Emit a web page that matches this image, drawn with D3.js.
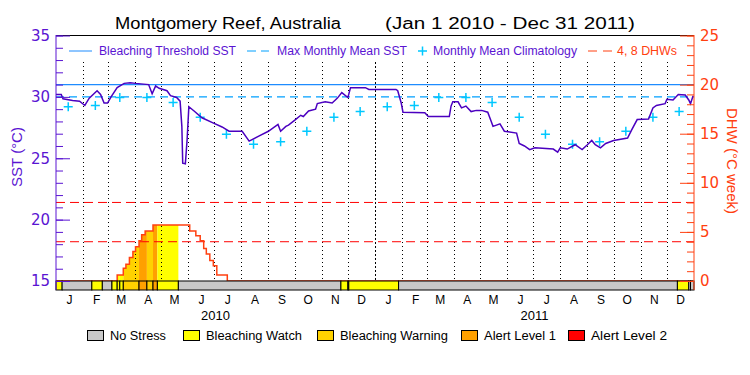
<!DOCTYPE html>
<html>
<head>
<meta charset="utf-8">
<script src="https://cdn.jsdelivr.net/npm/d3@7"></script>
<style>
  body { margin: 0; background: #fff; }
  svg text { font-family: "Liberation Sans", Arial, sans-serif; }
</style>
</head>
<body>
<div id="chart"></div>
<script>
// Montgomery Reef SST / DHW chart, 2010-2011
const monthLetters = ['J', 'F', 'M', 'A', 'M', 'J', 'J', 'A', 'S', 'O', 'N', 'D'];
const years = [2010, 2011];
const climatology = [29.2, 29.3, 29.95, 29.95, 29.55, 28.35, 26.95, 26.15, 26.35, 27.2, 28.35, 28.8];
const bleachingThreshold = 31.0;
const maxMonthlyMean = 30.0;
const dhwLevels = [4, 8];

const sstDates = [
  '2010-01-01', '2010-01-07', '2010-01-09', '2010-01-20', '2010-01-28', '2010-02-03', '2010-02-08',
  '2010-02-17', '2010-02-21', '2010-02-25', '2010-03-01', '2010-03-05', '2010-03-12', '2010-03-20',
  '2010-03-27', '2010-04-02', '2010-04-17', '2010-04-21', '2010-04-25', '2010-04-29', '2010-05-08',
  '2010-05-12', '2010-05-19', '2010-05-23', '2010-05-25', '2010-05-26', '2010-05-29', '2010-05-31',
  '2010-06-02', '2010-06-08', '2010-06-17', '2010-06-29', '2010-07-10', '2010-07-18', '2010-07-25',
  '2010-08-02', '2010-08-10', '2010-08-21', '2010-09-01', '2010-09-12', '2010-09-15', '2010-09-21',
  '2010-09-24', '2010-10-02', '2010-10-08', '2010-10-11', '2010-10-17', '2010-10-25', '2010-10-27',
  '2010-11-05', '2010-11-13', '2010-11-19', '2010-11-24', '2010-12-01', '2010-12-04', '2010-12-21',
  '2010-12-25', '2011-01-25', '2011-01-27', '2011-01-31', '2011-02-02', '2011-02-27', '2011-03-03',
  '2011-03-27', '2011-03-29', '2011-03-31', '2011-04-06', '2011-04-10', '2011-04-15', '2011-04-21',
  '2011-04-27', '2011-05-03', '2011-05-10', '2011-05-14', '2011-05-16', '2011-05-24', '2011-05-29',
  '2011-06-12', '2011-06-15', '2011-06-21', '2011-06-27', '2011-07-03', '2011-07-24', '2011-07-29',
  '2011-08-01', '2011-08-09', '2011-08-18', '2011-08-26', '2011-09-01', '2011-09-06', '2011-09-10',
  '2011-09-16', '2011-09-22', '2011-10-01', '2011-10-17', '2011-10-22', '2011-10-28', '2011-11-10',
  '2011-11-15', '2011-11-19', '2011-11-29', '2011-12-01', '2011-12-08', '2011-12-14', '2011-12-22',
  '2011-12-26', '2011-12-28', '2011-12-31'
];
const sstValues = [
  30.2, 30.2, 29.85, 29.7, 29.65, 29.3, 29.9,
  30.5, 30.2, 29.5, 29.5, 30.0, 30.75, 31.1,
  31.15, 31.1, 31.0, 30.25, 30.9, 30.7, 30.5,
  30.1, 29.95, 29.65, 27.6, 24.6, 24.55, 26.5,
  29.2, 28.85, 28.3, 27.9, 27.55, 27.2, 27.2,
  27.2, 26.4, 26.8, 27.2, 27.75, 27.2, 27.6,
  27.7, 28.15, 28.5, 28.4, 28.85, 29.0, 29.45,
  29.6, 29.5, 29.9, 30.35, 29.95, 30.75, 30.75,
  30.6, 30.6, 30.5, 29.5, 28.75, 28.7, 28.4,
  28.4, 29.25, 29.6, 29.6, 29.1, 29.25, 28.8,
  28.9, 28.9, 28.75, 28.0, 27.6, 27.8, 27.2,
  27.05, 26.2, 26.0, 25.7, 25.85, 25.75, 25.5,
  25.85, 25.75, 26.1, 25.7, 26.1, 26.45, 26.1,
  25.85, 26.2, 26.45, 26.65, 27.35, 28.15, 28.2,
  29.1, 29.3, 29.45, 29.8, 29.75, 30.2, 30.15,
  29.75, 29.45, 30.1
];

const dhwDates = [
  '2010-01-01', '2010-03-12', '2010-03-19', '2010-03-22', '2010-03-26', '2010-03-30', '2010-04-02',
  '2010-04-06', '2010-04-09', '2010-04-13', '2010-04-22', '2010-06-03', '2010-06-10', '2010-06-15',
  '2010-06-19', '2010-06-22', '2010-06-26', '2010-06-30', '2010-07-04', '2010-07-16', '2011-12-31'
];
const dhwValues = [
  0, 0.6, 1.3, 1.7, 2.4, 3.0, 3.5,
  4.1, 4.7, 5.1, 5.7, 5.1, 4.6, 4.1,
  3.3, 2.75, 2.1, 1.55, 0.6, 0, 0
];

const stressStarts = [
  '2010-01-01', '2010-01-08', '2010-02-11', '2010-02-23', '2010-03-06', '2010-03-12', '2010-03-15',
  '2010-03-19', '2010-04-06', '2010-04-15', '2010-04-22', '2010-04-27', '2010-05-21', '2010-11-23',
  '2010-12-01', '2010-12-02', '2011-01-28', '2011-12-13', '2011-12-26', '2011-12-28'
];
const stressLevels = [1, 0, 1, 0, 1, 1, 1, 2, 3, 2, 3, 1, 0, 1, 0, 1, 0, 1, 0, 0];
const stressNames = ['No Stress', 'Bleaching Watch', 'Bleaching Warning', 'Alert Level 1', 'Alert Level 2'];

const stressColors = ['#c8c8c8', '#ffff00', '#ffd200', '#ffa000', '#ff0000'];
const purple = '#5a14d2';
const orange = '#ff4010';

const parse = d3.timeParse('%Y-%m-%d');
const start = new Date(2010, 0, 1), end = new Date(2012, 0, 1);

const width = 750, height = 375;
const svg = d3.select('#chart').append('svg')
  .attr('width', width).attr('height', height);

const x = d3.scaleTime().domain([start, end]).range([56, 694]);
const ySST = d3.scaleLinear().domain([15, 35]).range([281, 35.5]);
const yDHW = d3.scaleLinear().domain([0, 25]).range([281, 35.5]);

const sst = sstDates.map((d, i) => ({ date: parse(d), value: sstValues[i] }));
const dhw = dhwDates.map((d, i) => ({ date: parse(d), value: dhwValues[i] }));
const stress = stressStarts.map((d, i) => ({
  start: parse(d),
  end: i + 1 < stressStarts.length ? parse(stressStarts[i + 1]) : end,
  level: stressLevels[i]
}));

// fill under DHW coloured by stress level
const dhwArea = d3.area().curve(d3.curveStepAfter)
  .x(d => x(d.date)).y0(yDHW(0)).y1(d => yDHW(d.value));
svg.append('clipPath').attr('id', 'dhw-clip')
  .append('path').attr('d', dhwArea(dhw));
svg.append('g').attr('clip-path', 'url(#dhw-clip)')
  .selectAll('rect')
  .data(stress.filter(d => d.level > 0))
  .join('rect')
  .attr('x', d => x(d.start))
  .attr('width', d => x(d.end) - x(d.start))
  .attr('y', yDHW(25))
  .attr('height', yDHW(0) - yDHW(25))
  .attr('fill', d => stressColors[d.level]);

// dotted month lines (kept below the legend strip)
svg.append('g')
  .selectAll('line')
  .data(d3.timeMonth.range(new Date(2010, 1, 1), end))
  .join('line')
  .attr('x1', d => Math.round(x(d)) + 0.5)
  .attr('x2', d => Math.round(x(d)) + 0.5)
  .attr('y1', 62).attr('y2', 281)
  .attr('stroke', '#000')
  .attr('stroke-dasharray', d => d.getMonth() === 0 ? '2,2' : '1,3');

// DHW 4 and 8 lines
svg.append('g')
  .selectAll('line')
  .data(dhwLevels)
  .join('line')
  .attr('x1', 56).attr('x2', 694)
  .attr('y1', d => yDHW(d)).attr('y2', d => yDHW(d))
  .attr('stroke', '#ff0000')
  .attr('stroke-dasharray', '9,5');

// threshold + MMM
svg.append('line')
  .attr('x1', 56).attr('x2', 694)
  .attr('y1', ySST(bleachingThreshold)).attr('y2', ySST(bleachingThreshold))
  .attr('stroke', '#1e8cff').attr('stroke-width', 1.2);
svg.append('line')
  .attr('x1', 56).attr('x2', 694)
  .attr('y1', ySST(maxMonthlyMean)).attr('y2', ySST(maxMonthlyMean))
  .attr('stroke', '#00a0ff').attr('stroke-width', 1.2)
  .attr('stroke-dasharray', '8,5');

// monthly mean climatology crosses
const climPoints = [];
years.forEach(yr => climatology.forEach((v, m) => climPoints.push({ date: new Date(yr, m, 15), value: v })));
svg.append('g')
  .selectAll('path')
  .data(climPoints)
  .join('path')
  .attr('transform', d => `translate(${x(d.date)},${ySST(d.value)})`)
  .attr('d', 'M-4.5,0H4.5M0,-4.5V4.5')
  .attr('stroke', '#00c8ff')
  .attr('stroke-width', 1.5);

// DHW line
svg.append('path')
  .datum(dhw)
  .attr('d', d3.line().curve(d3.curveStepAfter).x(d => x(d.date)).y(d => yDHW(d.value)))
  .attr('fill', 'none')
  .attr('stroke', orange)
  .attr('stroke-width', 1.5);

// SST line
svg.append('path')
  .datum(sst)
  .attr('d', d3.line().x(d => x(d.date)).y(d => ySST(d.value)))
  .attr('fill', 'none')
  .attr('stroke', '#4b00c0')
  .attr('stroke-width', 1.5);

// stress bar
svg.append('g')
  .selectAll('rect')
  .data(stress)
  .join('rect')
  .attr('x', d => x(d.start))
  .attr('width', d => x(d.end) - x(d.start))
  .attr('y', 281).attr('height', 9)
  .attr('fill', d => stressColors[d.level])
  .attr('stroke', '#000')
  .attr('stroke-width', 1);

// frame top
svg.append('line')
  .attr('x1', 56).attr('x2', 694).attr('y1', 35.5).attr('y2', 35.5)
  .attr('stroke', '#000');

// left axis
const left = svg.append('g').attr('transform', 'translate(56,0)');
left.call(d3.axisLeft(ySST).tickValues(d3.range(15, 36)).tickSize(-7).tickFormat('').tickSizeOuter(0));
left.call(g => g.append('g').call(d3.axisLeft(ySST).tickValues([15, 20, 25, 30, 35]).tickSize(-14).tickPadding(6).tickSizeOuter(0)));
left.selectAll('.domain').remove();
left.selectAll('line').attr('stroke', purple);
left.selectAll('text').attr('fill', purple).style('font-family', '"DejaVu Sans", sans-serif').style('font-size', '15px');
left.append('line').attr('y1', 35).attr('y2', 290).attr('stroke', purple);

// right axis
const right = svg.append('g').attr('transform', 'translate(694,0)');
right.call(d3.axisRight(yDHW).tickValues(d3.range(0, 26)).tickSize(-7).tickFormat('').tickSizeOuter(0));
right.call(g => g.append('g').call(d3.axisRight(yDHW).tickValues([0, 5, 10, 15, 20, 25]).tickSize(-14).tickPadding(6).tickSizeOuter(0)));
right.selectAll('.domain').remove();
right.selectAll('line').attr('stroke', orange);
right.selectAll('text').attr('fill', orange).style('font-family', '"DejaVu Sans", sans-serif').style('font-size', '15px');
right.append('line').attr('y1', 35).attr('y2', 290).attr('stroke', orange);

// axis titles
svg.append('text')
  .attr('transform', 'translate(22,157) rotate(-90)')
  .attr('text-anchor', 'middle')
  .attr('fill', purple)
  .style('font-size', '15px')
  .text('SST (°C)');
svg.append('text')
  .attr('transform', 'translate(727,161) rotate(90)')
  .attr('text-anchor', 'middle')
  .attr('fill', orange)
  .style('font-size', '15px')
  .text('DHW (°C week)');

// month labels
const monthAxis = svg.append('g').attr('transform', 'translate(0,291)')
  .call(d3.axisBottom(x)
    .tickValues(d3.timeMonth.range(start, end).map(d => new Date(d.getFullYear(), d.getMonth(), 16)))
    .tickFormat(d => monthLetters[d.getMonth()])
    .tickSize(0).tickPadding(4));
monthAxis.select('.domain').remove();
monthAxis.selectAll('text').attr('fill', '#000').style('font-size', '12px');

const yearAxis = svg.append('g').attr('transform', 'translate(0,307)')
  .call(d3.axisBottom(x)
    .tickValues(years.map(yr => new Date(yr, 6, 2)))
    .tickFormat(d3.timeFormat('%Y'))
    .tickSize(0).tickPadding(4));
yearAxis.select('.domain').remove();
yearAxis.selectAll('text').attr('fill', '#000').style('font-size', '13px');

// title
svg.append('text').attr('x', 115).attr('y', 29)
  .attr('textLength', 226).attr('lengthAdjust', 'spacingAndGlyphs')
  .style('font-size', '16px').text('Montgomery Reef, Australia');
svg.append('text').attr('x', 385).attr('y', 29)
  .attr('textLength', 250).attr('lengthAdjust', 'spacingAndGlyphs')
  .style('font-size', '16px').text('(Jan 1 2010 - Dec 31 2011)');

// top legend
const topLegend = svg.append('g').style('font-size', '12px');
topLegend.append('line').attr('x1', 69).attr('x2', 92).attr('y1', 51).attr('y2', 51).attr('stroke', '#1e8cff');
topLegend.append('text').attr('x', 99).attr('y', 55).attr('fill', purple)
  .attr('textLength', 137).attr('lengthAdjust', 'spacingAndGlyphs').text('Bleaching Threshold SST');
topLegend.append('line').attr('x1', 247).attr('x2', 269).attr('y1', 51).attr('y2', 51)
  .attr('stroke', '#00a0ff').attr('stroke-dasharray', '9,5');
topLegend.append('text').attr('x', 277).attr('y', 55).attr('fill', purple)
  .attr('textLength', 130).attr('lengthAdjust', 'spacingAndGlyphs').text('Max Monthly Mean SST');
topLegend.append('path').attr('transform', 'translate(422.5,51)').attr('d', 'M-4.5,0H4.5M0,-4.5V4.5')
  .attr('stroke', '#00c8ff').attr('stroke-width', 1.5);
topLegend.append('text').attr('x', 433).attr('y', 55).attr('fill', purple)
  .attr('textLength', 144).attr('lengthAdjust', 'spacingAndGlyphs').text('Monthly Mean Climatology');
topLegend.append('line').attr('x1', 588).attr('x2', 612).attr('y1', 51).attr('y2', 51)
  .attr('stroke', orange).attr('stroke-dasharray', '9,6');
topLegend.append('text').attr('x', 617).attr('y', 55).attr('fill', orange)
  .attr('textLength', 60).attr('lengthAdjust', 'spacingAndGlyphs').text('4, 8 DHWs');

// bottom legend
const legendX = [87, 183, 317, 461, 568];
const legendW = [56, 96, 108, 72, 76];
const bottomLegend = svg.append('g')
  .selectAll('g')
  .data(stressNames)
  .join('g')
  .attr('transform', (d, i) => `translate(${legendX[i]},330)`);
bottomLegend.append('rect')
  .attr('x', 0.5).attr('y', 0.5).attr('width', 16).attr('height', 10)
  .attr('fill', (d, i) => stressColors[i])
  .attr('stroke', '#000');
bottomLegend.append('text')
  .attr('x', 23).attr('y', 10)
  .attr('textLength', (d, i) => legendW[i]).attr('lengthAdjust', 'spacingAndGlyphs')
  .style('font-size', '12px')
  .text(d => d);
</script>
</body>
</html>
